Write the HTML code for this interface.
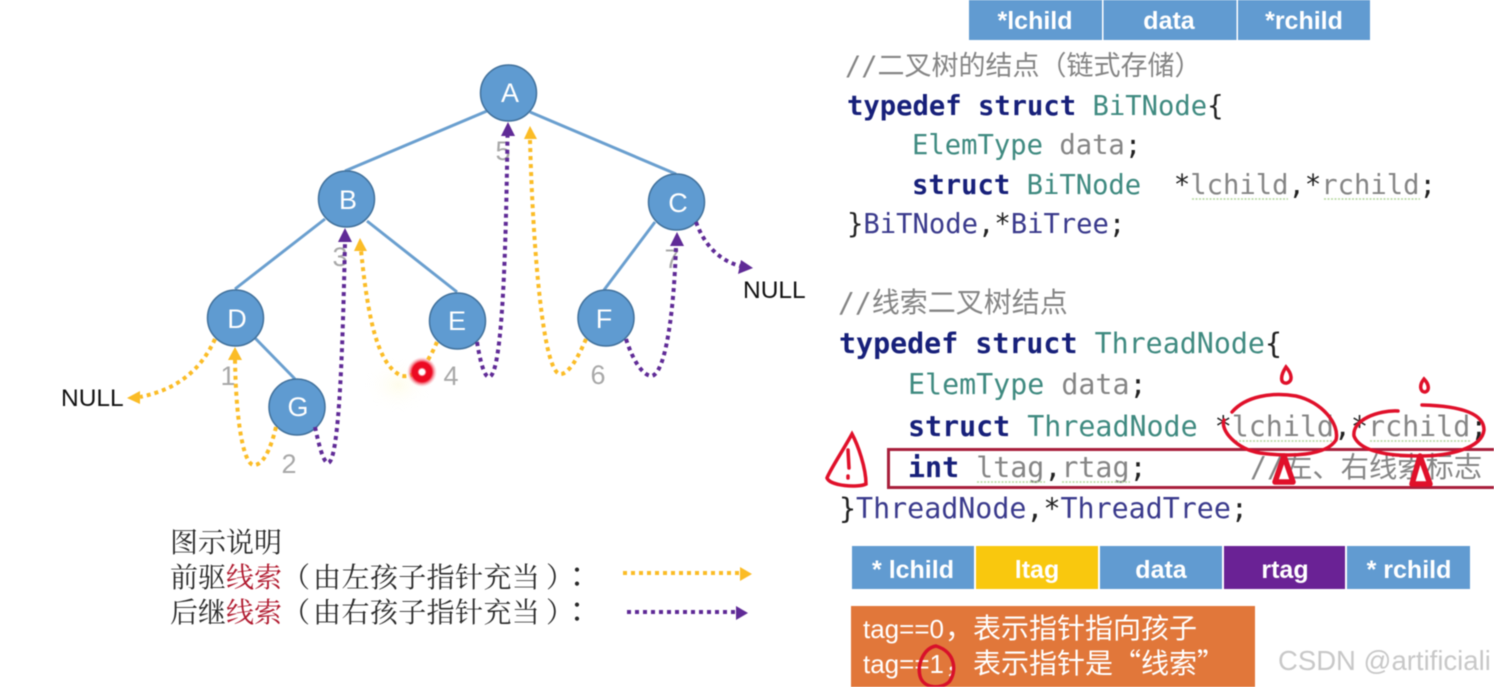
<!DOCTYPE html>
<html><head><meta charset="utf-8"><style>
html,body{margin:0;padding:0;background:#fff;width:1494px;height:687px;overflow:hidden}
svg{display:block;filter:blur(.45px)}
text{white-space:pre;text-spacing-trim:space-all}
.m{font-family:"DejaVu Sans Mono","Noto Sans CJK SC",monospace}
.c1{font-size:27.2px}.c2{font-size:28.3px}
.k{fill:#17207a;font-weight:bold}.t{fill:#3f8a80}.v{fill:#858585}.p{fill:#222}.n{fill:#3a3a8c}
.g{font:27px "Liberation Sans",sans-serif;fill:#a8a8a8;text-anchor:middle}
.nl{font:24.5px "Liberation Sans",sans-serif;fill:#111}
.h{font:bold 25px "Liberation Sans",sans-serif;fill:#fff;text-anchor:middle}
.nd{font:27px "Liberation Sans",sans-serif;fill:#fff;text-anchor:middle}
.lg{font:28px "Noto Serif CJK SC","Liberation Serif",serif;fill:#2a2a2a}
.lc{font:28px "Noto Sans CJK TC",sans-serif;fill:#2a2a2a}
.o{font-size:26px;font-family:"Liberation Sans",sans-serif;fill:#fff}
.oc{font-size:28px;font-family:"Noto Sans CJK SC",sans-serif;fill:#fff}
.y{fill:none;stroke:#fbbc26;stroke-width:4;stroke-dasharray:4 4}
.u{fill:none;stroke:#5f2a96;stroke-width:4;stroke-dasharray:4 4}
.r{fill:none;stroke:#e0102a;stroke-width:3.5;stroke-linecap:round}
.w{fill:none;stroke:#b5d8a0;stroke-width:1.5;stroke-dasharray:2 1.5}
</style></head><body>
<svg width="1494" height="687" viewBox="0 0 1494 687" xmlns="http://www.w3.org/2000/svg">
<defs><radialGradient id="dot"><stop offset="0" stop-color="#fff"/><stop offset=".18" stop-color="#fff"/><stop offset=".3" stop-color="#ec0a22"/><stop offset=".65" stop-color="#ec0a22"/><stop offset="1" stop-color="#f6a0a8" stop-opacity="0"/></radialGradient>
<radialGradient id="glow"><stop offset="0" stop-color="#fdf3a0" stop-opacity=".2"/><stop offset="1" stop-color="#fff" stop-opacity="0"/></radialGradient></defs>

<!-- tree edges -->
<g stroke="#6a9fcf" stroke-width="3" fill="none">
<line x1="487" y1="111" x2="345" y2="171"/>
<line x1="530" y1="112" x2="676" y2="174"/>
<line x1="325" y1="219" x2="235" y2="289"/>
<line x1="367" y1="221" x2="457" y2="292"/>
<line x1="655" y1="222" x2="604" y2="290"/>
<line x1="255" y1="338" x2="295" y2="379"/>
</g>
<!-- nodes -->
<g fill="#5f9bd1" stroke="#41719c" stroke-width="1.5">
<circle cx="508.500" cy="93" r="28"/><circle cx="346.500" cy="199" r="28"/><circle cx="676.500" cy="202" r="28"/>
<circle cx="235.500" cy="318" r="28"/><circle cx="457.500" cy="321" r="28"/><circle cx="606" cy="318" r="28"/><circle cx="297" cy="407" r="28"/>
</g>
<text class="nd" x="510" y="102">A</text><text class="nd" x="348" y="209">B</text><text class="nd" x="678" y="212">C</text>
<text class="nd" x="237" y="328">D</text><text class="nd" x="457" y="330">E</text><text class="nd" x="604" y="328">F</text><text class="nd" x="298" y="416">G</text>

<!-- gray numbers -->
<text class="g" x="228" y="385">1</text><text class="g" x="289" y="473">2</text><text class="g" x="340" y="266">3</text>
<text class="g" x="451" y="385">4</text><text class="g" x="503" y="160">5</text><text class="g" x="598" y="384">6</text><text class="g" x="672" y="268">7</text>

<!-- threads -->
<path class="y" d="M215 339C200 372 175 390 140 397"/>
<polygon fill="#fbbc26" points="127,398 140,391 140,404"/>
<path class="y" d="M276 427C270 452 262 466 253 465C243 462 236 420 235 360"/>
<polygon fill="#fbbc26" points="235,347 228,360 242,360"/>
<path class="u" d="M315 427C319 445 323 462 328 463C340 462 343 330 345 242"/>
<polygon fill="#5f2a96" points="345,228 338,242 352,242"/>
<ellipse cx="398" cy="385" rx="34" ry="28" fill="url(#glow)"/>
<path class="y" d="M437 342C430 358 420 378 402 376C378 366 368 320 361 250"/>
<polygon fill="#fbbc26" points="360,238 354,251 367,251"/>
<path class="u" d="M477 342C480 360 484 377 489 377C503 376 506 240 507.500 136"/>
<polygon fill="#5f2a96" points="508,122 501,136 515,136"/>
<path class="y" d="M586 339C578 358 568 375 560 374C543 372 533 250 530 140"/>
<polygon fill="#fbbc26" points="530,126 524,139 537,139"/>
<path class="u" d="M626 339C632 358 642 376 652 376C666 372 674 310 676 246"/>
<polygon fill="#5f2a96" points="677,232 670,246 684,246"/>
<path class="u" d="M696 222C704 244 718 260 740 266"/>
<polygon fill="#5f2a96" points="753,268 738,274 741,260"/>
<circle cx="422" cy="372" r="15" fill="url(#dot)"/>

<text class="nl" x="61" y="406">NULL</text><text class="nl" x="743" y="298">NULL</text>

<!-- legend -->
<text class="lg" x="170" y="552">图示说明</text>
<text class="lg" x="170" y="587">前驱<tspan fill="#b0192e">线索</tspan>&#xFF08;<tspan dx="3" letter-spacing=".4">由左孩子指针充当</tspan></text>
<text class="lg" x="546" y="587">&#xFF09;</text><text class="lc" x="563" y="587">&#xFF1A;</text>
<text class="lg" x="170" y="622">后继<tspan fill="#b0192e">线索</tspan>&#xFF08;<tspan dx="3" letter-spacing=".4">由右孩子指针充当</tspan></text>
<text class="lg" x="546" y="622">&#xFF09;</text><text class="lc" x="563" y="622">&#xFF1A;</text>
<line class="y" x1="623" y1="573" x2="740" y2="573"/><polygon fill="#fbbc26" points="752,574 740,567 740,581"/>
<line class="u" x1="627" y1="612" x2="736" y2="612"/><polygon fill="#5f2a96" points="748,613 736,606 736,620"/>

<!-- top table -->
<rect x="969" y="0" width="133" height="40" fill="#619bd1"/><rect x="1103.500" y="0" width="133" height="40" fill="#619bd1"/><rect x="1238" y="0" width="132" height="40" fill="#619bd1"/>
<text class="h" x="1035" y="29">*lchild</text><text class="h" x="1169" y="29">data</text><text class="h" x="1304" y="29">*rchild</text>

<!-- code 1 -->
<text class="m v" style="font-size:27px" x="845" y="75">//二叉树的结点&#xFF08;链式存储&#xFF09;</text>
<text class="m c1" x="847" y="115"><tspan class="k">typedef struct</tspan> <tspan class="t">BiTNode</tspan><tspan class="p">{</tspan></text>
<text class="m c1" x="912" y="154"><tspan class="t">ElemType</tspan> <tspan class="v">data</tspan><tspan class="p">;</tspan></text>
<text class="m c1" x="912" y="194"><tspan class="k">struct</tspan> <tspan class="t">BiTNode</tspan>  <tspan class="p">*</tspan><tspan class="v">lchild</tspan><tspan class="p">,*</tspan><tspan class="v">rchild</tspan><tspan class="p">;</tspan></text>
<text class="m c1" x="847" y="233"><tspan class="p">}</tspan><tspan class="n">BiTNode</tspan><tspan class="p">,*</tspan><tspan class="n">BiTree</tspan><tspan class="p">;</tspan></text>
<line class="w" x1="1192" y1="199" x2="1288" y2="199"/><line class="w" x1="1324" y1="199" x2="1420" y2="199"/>

<!-- code 2 -->
<text class="m v" style="font-size:28px" x="838" y="312">//线索二叉树结点</text>
<text class="m c2" x="839" y="353"><tspan class="k">typedef struct</tspan> <tspan class="t">ThreadNode</tspan><tspan class="p">{</tspan></text>
<text class="m c2" x="908" y="394"><tspan class="t">ElemType</tspan> <tspan class="v">data</tspan><tspan class="p">;</tspan></text>
<text class="m c2" x="908" y="436"><tspan class="k">struct</tspan> <tspan class="t">ThreadNode</tspan> <tspan class="p">*</tspan><tspan class="v">lchild</tspan><tspan class="p">,*</tspan><tspan class="v">rchild</tspan><tspan class="p">;</tspan></text>
<text class="m c2" x="908" y="477"><tspan class="k">int</tspan> <tspan class="v">ltag</tspan><tspan class="p">,</tspan><tspan class="v">rtag</tspan><tspan class="p">;</tspan></text>
<text class="m v" style="font-size:28.3px" x="1250" y="477">//左、右线索标志</text>
<text class="m c2" x="839" y="518"><tspan class="p">}</tspan><tspan class="n">ThreadNode</tspan><tspan class="p">,*</tspan><tspan class="n">ThreadTree</tspan><tspan class="p">;</tspan></text>
<line class="w" x1="1232" y1="441" x2="1334" y2="441"/><line class="w" x1="1370" y1="441" x2="1470" y2="441"/>
<line class="w" x1="977" y1="482" x2="1045" y2="482"/><line class="w" x1="1062" y1="482" x2="1130" y2="482"/>

<!-- red box + handwriting -->
<rect x="888.500" y="449.500" width="620" height="38" fill="none" stroke="#a81f3c" stroke-width="3"/>
<path class="r" d="M1232 412C1246 396 1272 392 1296 396C1322 402 1340 424 1336 440C1326 456 1290 457 1260 453C1236 449 1220 430 1224 420"/>
<path class="r" d="M1398 411C1378 410 1352 420 1354 436C1360 452 1390 456 1420 456C1450 456 1482 448 1484 430C1484 414 1462 406 1422 405"/>
<path class="r" d="M1286 367C1280 376 1280 384 1287 383C1293 381 1292 374 1286 367Z"/>
<path class="r" d="M1424 379C1419 385 1420 392 1425 392C1430 391 1429 384 1424 379Z"/>
<path d="M1284 456L1275 482L1293 482Z" fill="#fff" stroke="#e0102a" stroke-width="5.500" stroke-linejoin="round"/>
<path d="M1420 456L1412 484L1430 484Z" fill="#fff" stroke="#e0102a" stroke-width="5.500" stroke-linejoin="round"/>
<path class="r" d="M852 434C842 452 830 470 827 478C830 486 858 488 866 484C866 468 858 445 852 434Z"/>
<path class="r" d="M848 450L849 468M848 476L848 478"/>

<!-- bottom table -->
<rect x="852" y="546" width="122" height="43" fill="#619bd1"/>
<rect x="976" y="546" width="122" height="43" fill="#f9c80e"/>
<rect x="1100" y="546" width="122" height="43" fill="#619bd1"/>
<rect x="1224" y="546" width="121" height="43" fill="#6a2295"/>
<rect x="1347" y="546" width="123" height="43" fill="#619bd1"/>
<text class="h" x="913" y="578">* lchild</text><text class="h" x="1037" y="578">ltag</text><text class="h" x="1161" y="578">data</text><text class="h" x="1285" y="578">rtag</text><text class="h" x="1409" y="578">* rchild</text>

<!-- orange box -->
<rect x="851" y="606" width="404" height="81" fill="#e1773a"/>
<text class="o" x="863" y="638">tag==0</text><text class="oc" x="945" y="638">&#xFF0C;表示指针指向孩子</text>
<text class="o" x="863" y="673">tag==1</text><text class="oc" x="945" y="673">&#xFF0C;表示指针是&#x201C;线索&#x201D;</text>
<path d="M936 646C924 648 917 664 920 676C923 688 940 690 949 682C957 672 956 652 936 646Z" fill="none" stroke="#d8102a" stroke-width="3.500"/>

<text x="1278" y="670" style="font:27.5px 'Liberation Sans',sans-serif;fill:#c8c8c8">CSDN @artificiali</text>
</svg>
</body></html>
